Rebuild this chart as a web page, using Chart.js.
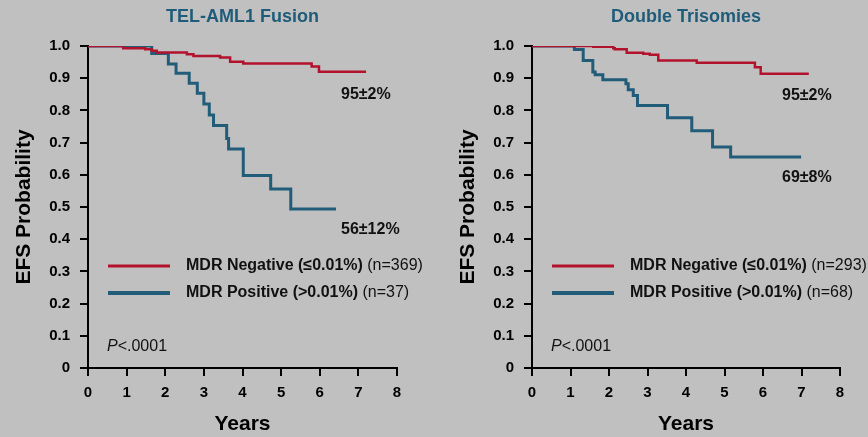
<!DOCTYPE html>
<html>
<head>
<meta charset="utf-8">
<script src="https://cdn.jsdelivr.net/npm/chart.js@4"></script>
<style>
    html, body { margin: 0; padding: 0; background: #c0c0c0; }
    #wrap { display: flex; width: 868px; height: 437px; }
    .panel { position: relative; width: 434px; height: 437px; }
</style>
</head>
<body>
<div id="wrap">
    <div class="panel"><canvas id="telChart" width="434" height="437"></canvas></div>
    <div class="panel"><canvas id="dtChart" width="434" height="437"></canvas></div>
</div>
<script>
// --- Data (years, EFS probability) ---
const telNegYears = [0, 0.91, 1.48, 1.65, 1.78, 2.56, 2.73, 3.42, 3.68, 4.02, 5.79, 5.98, 7.2];
const telNegEfs   = [1, 0.993, 0.99, 0.985, 0.98, 0.974, 0.969, 0.964, 0.951, 0.946, 0.936, 0.92, 0.92];
const telPosYears = [0, 1.65, 2.08, 2.28, 2.62, 2.83, 3.0, 3.14, 3.25, 3.59, 3.64, 4.02, 4.73, 5.25, 6.42];
const telPosEfs   = [1, 0.977, 0.944, 0.915, 0.884, 0.853, 0.82, 0.786, 0.753, 0.713, 0.68, 0.598, 0.556, 0.494, 0.494];

const dtNegYears = [0, 1.59, 2.11, 2.15, 2.46, 2.89, 3.06, 3.28, 4.28, 5.79, 5.94, 7.19];
const dtNegEfs   = [1, 0.998, 0.993, 0.99, 0.979, 0.976, 0.973, 0.955, 0.948, 0.934, 0.914, 0.914];
const dtPosYears = [0, 1.10, 1.33, 1.58, 1.64, 1.84, 2.44, 2.5, 2.63, 2.74, 3.52, 4.15, 4.69, 5.16, 6.99];
const dtPosEfs   = [1, 0.989, 0.955, 0.919, 0.911, 0.895, 0.883, 0.864, 0.846, 0.815, 0.777, 0.737, 0.686, 0.655, 0.655];

const xTicks = [0, 1, 2, 3, 4, 5, 6, 7, 8];
const yTicks = [0, 0.1, 0.2, 0.3, 0.4, 0.5, 0.6, 0.7, 0.8, 0.9, 1.0];

const legendLabels = ['MDR Negative (\u22640.01%)', 'MDR Positive (>0.01%)'];

const RED = '#b3122c';
const BLUE = '#215c79';
const TEAL = '#1f5c7a';
const FONT = '"Liberation Sans", Arial, sans-serif';

const toPoints = (xs, ys) => xs.map((x, i) => ({ x, y: ys[i] }));

// titles, legend, survival estimates and p-value drawn on top of the plot
const annotations = {
    id: 'annotations',
    afterDraw(chart, args, opts) {
        const { ctx, chartArea: a } = chart;
        ctx.save();
        ctx.textBaseline = 'middle';

        ctx.fillStyle = TEAL;
        ctx.textAlign = 'center';
        ctx.font = 'bold 18px ' + FONT;
        ctx.fillText(opts.title, (a.left + a.right) / 2, 17);

        ctx.textAlign = 'left';
        [[RED, 3, 266], [BLUE, 4, 293]].forEach(([color, w, y], i) => {
            ctx.strokeStyle = color;
            ctx.lineWidth = w;
            ctx.beginPath();
            ctx.moveTo(a.left + 20, y);
            ctx.lineTo(a.left + 82, y);
            ctx.stroke();
            ctx.fillStyle = '#111';
            ctx.font = 'bold 16px ' + FONT;
            ctx.fillText(legendLabels[i], a.left + 98, y);
            const wBold = ctx.measureText(legendLabels[i] + ' ').width;
            ctx.font = '16px ' + FONT;
            ctx.fillText('(n=' + opts.counts[i] + ')', a.left + 98 + wBold, y);
        });

        ctx.font = 'bold 16px ' + FONT;
        opts.estimates.forEach(e => ctx.fillText(e.text, a.left + e.dx, e.y));

        ctx.font = 'italic 16px ' + FONT;
        ctx.fillText('P', a.left + 19, 347);
        const wP = ctx.measureText('P').width;
        ctx.font = '16px ' + FONT;
        ctx.fillText('<.0001', a.left + 19 + wP, 347);
        ctx.restore();
    }
};

function makeChart(canvasId, neg, pos, opts) {
    const tickFont = { family: FONT, size: 15, weight: 'bold' };
    const titleFont = { family: FONT, size: 21, weight: 'bold' };
    return new Chart(document.getElementById(canvasId), {
        type: 'line',
        data: {
            datasets: [
                { data: toPoints(neg[0], neg[1]), borderColor: RED, borderWidth: 2.5, stepped: 'before', pointRadius: 0, fill: false },
                { data: toPoints(pos[0], pos[1]), borderColor: BLUE, borderWidth: 3, stepped: 'before', pointRadius: 0, fill: false }
            ]
        },
        options: {
            responsive: false,
            animation: false,
            layout: { padding: { top: 46, right: opts.padRight, bottom: 0, left: 0 } },
            plugins: {
                legend: { display: false },
                tooltip: { enabled: false },
                annotations: opts
            },
            scales: {
                x: {
                    type: 'linear',
                    min: 0, max: 8,
                    afterBuildTicks: s => { s.ticks = xTicks.map(v => ({ value: v })); },
                    afterFit: s => { s.height = 69; },
                    ticks: { color: '#000', font: tickFont, padding: 8, maxRotation: 0 },
                    grid: { drawOnChartArea: false, color: '#000', lineWidth: 2, tickLength: 8 },
                    border: { color: '#000', width: 2 },
                    title: { display: true, text: 'Years', color: '#000', font: titleFont, padding: { top: 0, bottom: 0 } }
                },
                y: {
                    min: 0, max: 1,
                    afterBuildTicks: s => { s.ticks = yTicks.map(v => ({ value: v })); },
                    afterFit: s => { s.width = opts.axisWidth; },
                    ticks: {
                        color: '#000', font: tickFont, padding: 10,
                        callback: v => v === 0 ? '0' : Number(v).toFixed(1)
                    },
                    grid: { drawOnChartArea: false, color: '#000', lineWidth: 2, tickLength: 8 },
                    border: { color: '#000', width: 2 },
                    title: { display: true, text: 'EFS Probability', color: '#000', font: titleFont, padding: { top: opts.axisWidth - 76.6, bottom: 0 } }
                }
            }
        },
        plugins: [annotations]
    });
}

makeChart('telChart', [telNegYears, telNegEfs], [telPosYears, telPosEfs], {
    title: 'TEL-AML1 Fusion',
    counts: [369, 37],
    axisWidth: 88,
    padRight: 37,
    estimates: [{ text: '95\u00b12%', dx: 253, y: 95 }, { text: '56\u00b112%', dx: 253, y: 230 }]
});

makeChart('dtChart', [dtNegYears, dtNegEfs], [dtPosYears, dtPosEfs], {
    title: 'Double Trisomies',
    counts: [293, 68],
    axisWidth: 98,
    padRight: 28,
    estimates: [{ text: '95\u00b12%', dx: 250, y: 96 }, { text: '69\u00b18%', dx: 250, y: 178 }]
});
</script>
</body>
</html>
